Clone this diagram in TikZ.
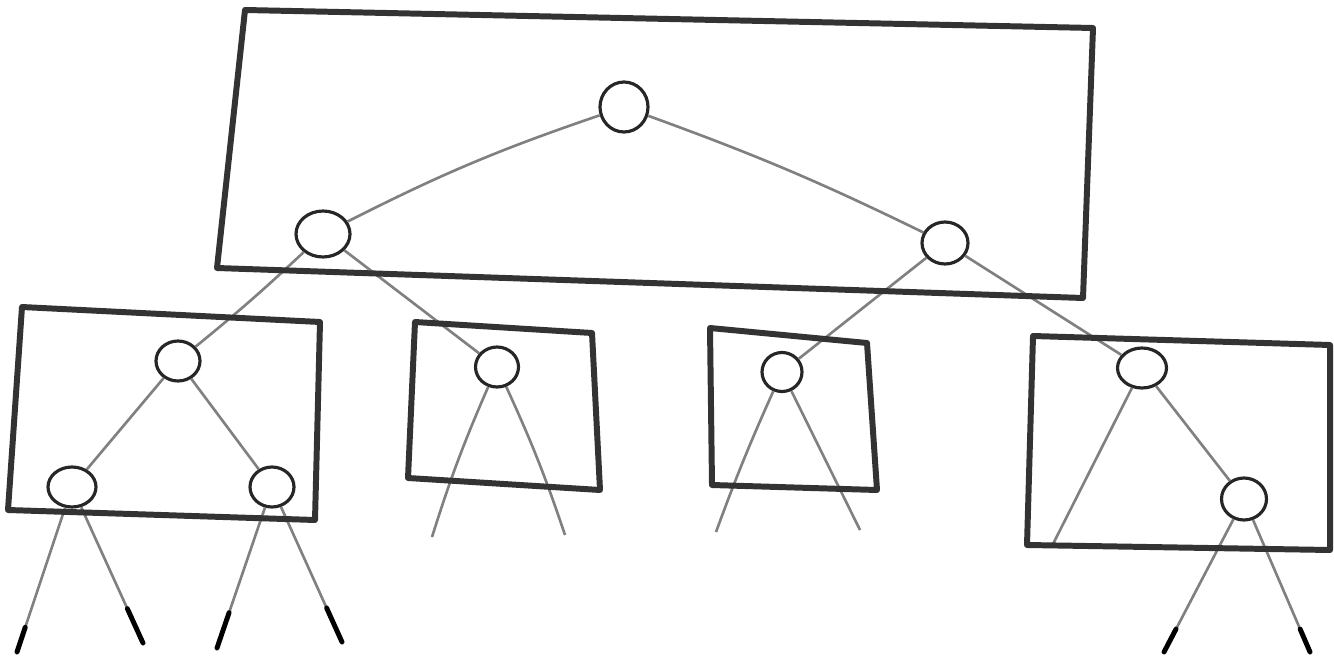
\documentclass[tikz,border=0pt]{standalone}
\usetikzlibrary{shapes.geometric,calc}

\begin{document}
\begin{tikzpicture}[
  x=0.02cm, y=-0.02cm,
  key/.style={draw=black!85, ellipse, line width=1.8pt, inner sep=0pt},
  page/.style={draw=black!80, line width=3.4pt, line join=round, line cap=round},
  link/.style={draw=black!50, line width=1.5pt},
  tip/.style={draw=black, line width=2.8pt, line cap=round},
]
\useasboundingbox (0,0) rectangle (1334,662);

% ---- keys ---------------------------------------------------------------
\node[key, minimum width=0.96cm, minimum height=1.0cm]  (root) at (624,107) {};
\node[key, minimum width=1.08cm, minimum height=0.92cm] (a)    at (323,234) {};
\node[key, minimum width=0.92cm, minimum height=0.84cm] (b)    at (945,243) {};

\node[key, minimum width=0.88cm, minimum height=0.8cm]  (aa)   at (178,361) {};
\node[key, minimum width=0.96cm, minimum height=0.8cm]  (aaa)  at (72,487)  {};
\node[key, minimum width=0.88cm, minimum height=0.8cm]  (aab)  at (272,487) {};
\node[key, minimum width=0.86cm, minimum height=0.8cm]  (ab)   at (497,367) {};
\node[key, minimum width=0.8cm,  minimum height=0.78cm] (ba)   at (782,372) {};
\node[key, minimum width=0.98cm, minimum height=0.8cm]  (bb)   at (1142,368) {};
\node[key, minimum width=0.9cm,  minimum height=0.84cm] (bbb)  at (1244,499) {};

% loose ends
\coordinate (e1) at (17,652);
\coordinate (e2) at (143,643);
\coordinate (e3) at (217,648);
\coordinate (e4) at (342,642);
\coordinate (e5) at (432,537);
\coordinate (e6) at (565,535);
\coordinate (e7) at (716,532);
\coordinate (e8) at (860,530);
\coordinate (e9) at (1052,546);
\coordinate (e10) at (1164,652);
\coordinate (e11) at (1310,652);

% ---- links ----------------------------------------------------------------
\draw[link] (root) to[bend right=4] (a);
\draw[link] (root) to[bend left=3] (b);
\draw[link] (a) to[bend left=2] (aa);
\draw[link] (a) -- (ab);
\draw[link] (b) -- (ba);
\draw[link] (b) -- (bb);
\draw[link] (aa) -- (aaa);
\draw[link] (aa) -- (aab);
\draw[link] (bb) -- (bbb);

\draw[link] (aaa) -- (e1);
\draw[link] (aaa) -- (e2);
\draw[link] (aab) -- (e3);
\draw[link] (aab) -- (e4);
\draw[link] (ab) to[bend right=3] (e5);
\draw[link] (ab) to[bend left=3] (e6);
\draw[link] (ba) to[bend right=2] (e7);
\draw[link] (ba) -- (e8);
\draw[link] (bb) -- (e9);
\draw[link] (bbb) -- (e10);
\draw[link] (bbb) -- (e11);

% dark pencil tips
\draw[tip] ($(aaa)!0.85!(e1)$) -- (e1);
\draw[tip] ($(aaa)!0.78!(e2)$) -- (e2);
\draw[tip] ($(aab)!0.78!(e3)$) -- (e3);
\draw[tip] ($(aab)!0.78!(e4)$) -- (e4);
\draw[tip] ($(bbb)!0.85!(e10)$) -- (e10);
\draw[tip] ($(bbb)!0.85!(e11)$) -- (e11);

% ---- pages ----------------------------------------------------------------
\draw[page] (245,10) -- (1093,28) -- (1083,298) -- (217,268) -- cycle;
\draw[page] (22,307) -- (320,322) -- (315,520) -- (8,510) -- cycle;
\draw[page] (415,322) -- (592,333) -- (600,490) -- (408,478) -- cycle;
\draw[page] (710,328) -- (867,343) -- (877,490) -- (712,485) -- cycle;
\draw[page] (1033,336) -- (1330,345) -- (1330,550) -- (1027,545) -- cycle;

\end{tikzpicture}
\end{document}
